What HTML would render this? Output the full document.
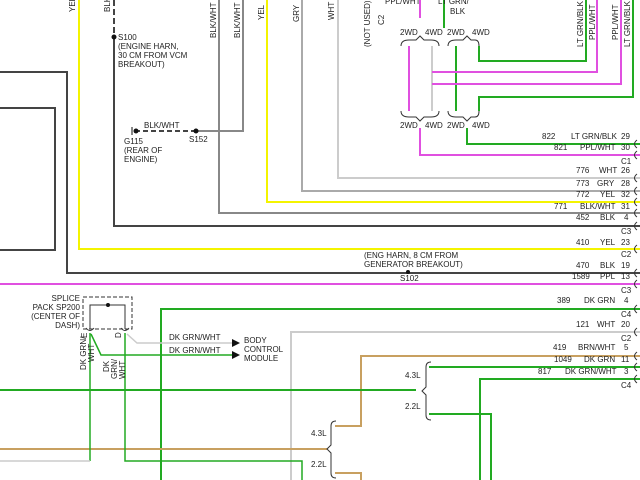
<!DOCTYPE html>
<html><head><meta charset="utf-8"><style>
html,body{margin:0;padding:0;background:#fff}
svg{display:block}
text{font-family:"Liberation Sans",sans-serif;font-size:8px;fill:#222}
</style></head><body>
<svg width="640" height="480" viewBox="0 0 640 480" xmlns="http://www.w3.org/2000/svg">
<g fill="none" stroke-width="2">
<polyline points="0,72 67,72 67,273 640,273" stroke="#444"/>
<polyline points="0,108 55,108 55,250 0,250" stroke="#444"/>
<polyline points="79,0 79,249 640,249" stroke="#f4f400"/>
<polyline points="267,0 267,202 640,202" stroke="#f4f400"/>
<line x1="114" y1="0" x2="114" y2="36" stroke="#444" stroke-dasharray="6,3"/>
<polyline points="114,37 114,226 640,226" stroke="#444"/>
<polyline points="219,0 219,213 640,213" stroke="#888"/>
<polyline points="243,0 243,131 196,131" stroke="#888"/>
<line x1="196" y1="131" x2="136" y2="131" stroke="#444" stroke-dasharray="5,3"/>
<polyline points="302,0 302,191 640,191" stroke="#aaa"/>
<polyline points="338,0 338,178 640,178" stroke="#ccc"/>
<line x1="420" y1="0" x2="420" y2="18" stroke="#e050e0"/>
<line x1="444" y1="0" x2="444" y2="28" stroke="#22aa22"/>
<line x1="409" y1="46" x2="409" y2="111" stroke="#e050e0"/>
<line x1="432" y1="46" x2="432" y2="111" stroke="#ccc"/>
<line x1="456" y1="46" x2="456" y2="111" stroke="#22aa22"/>
<polyline points="479,46 479,61 586,61 586,0" stroke="#22aa22"/>
<polyline points="432,72 597,72 597,0" stroke="#e050e0"/>
<polyline points="432,84 621,84 621,0" stroke="#e050e0"/>
<polyline points="479,111 479,97 633,97 633,0" stroke="#22aa22"/>
<polyline points="420,128 420,155 640,155" stroke="#e050e0"/>
<polyline points="467,128 467,144 640,144" stroke="#22aa22"/>
<line x1="0" y1="284" x2="640" y2="284" stroke="#e050e0"/>
<polyline points="161,480 161,309 640,309" stroke="#22aa22"/>
<polyline points="291,480 291,332 640,332" stroke="#ccc"/>
<polyline points="335,426 361,426 361,356 640,356" stroke="#c8a060"/>
<polyline points="335,473 361,473 361,480" stroke="#c8a060"/>
<line x1="0" y1="449" x2="327" y2="449" stroke="#c8a060"/>
<line x1="0" y1="390" x2="416" y2="390" stroke="#22aa22"/>
<line x1="429" y1="367" x2="640" y2="367" stroke="#22aa22"/>
<polyline points="429,414 491,414 491,480" stroke="#22aa22"/>
<polyline points="480,480 480,379 640,379" stroke="#22aa22"/>
<rect x="83" y="297" width="49" height="32" stroke="#333" stroke-width="1" stroke-dasharray="4,2"/>
<polyline points="90,329 90,305 125,305 125,329" stroke="#333" stroke-width="1"/>
<line x1="90" y1="333" x2="90" y2="461" stroke="#22aa22" stroke-width="1.5"/>
<line x1="0" y1="461" x2="90" y2="461" stroke="#ccc" stroke-width="1.5"/>
<polyline points="125,333 125,461 302,461 302,480" stroke="#22aa22" stroke-width="1.5"/>
<polyline points="91,334 101,355 232,355" stroke="#22aa22" stroke-width="1.5"/>
<polyline points="127,334 137,343 232,343" stroke="#ccc" stroke-width="1.5"/>
<g stroke="#333" stroke-width="1">
<path d="M401,46 q0,-6 8,-6 h7 l4,-4 l4,4 h7 q8,0 8,6"/>
<path d="M448,46 q0,-6 8,-6 h7 l4,-4 l4,4 h4 q4,0 4,6"/>
<path d="M401,111 q0,6 8,6 h7 l4,4 l4,-4 h7 q8,0 8,-6"/>
<path d="M448,111 q0,6 8,6 h7 l4,4 l4,-4 h4 q4,0 4,-6"/>
<path d="M431,362 q-5,0 -5,5 v20 l-4,4 l4,4 v20 q0,5 5,5"/>
<path d="M336,421 q-5,0 -5,5 v19 l-4,4 l4,4 v20 q0,5 5,5"/>
</g>
</g>
<g fill="none" stroke="#333" stroke-width="1">
<path d="M637,140 q-5,4 0,8"/><path d="M637,151 q-5,4 0,8"/>
<path d="M637,174 q-5,4 0,8"/><path d="M637,187 q-5,4 0,8"/><path d="M637,198 q-5,4 0,8"/><path d="M637,209 q-5,4 0,8"/><path d="M637,222 q-5,4 0,8"/>
<path d="M637,245 q-5,4 0,8"/><path d="M637,269 q-5,4 0,8"/><path d="M637,280 q-5,4 0,8"/>
<path d="M637,305 q-5,4 0,8"/><path d="M637,328 q-5,4 0,8"/><path d="M637,352 q-5,4 0,8"/><path d="M637,363 q-5,4 0,8"/><path d="M637,375 q-5,4 0,8"/>
<path d="M86,328 q4,5 8,0"/><path d="M121,328 q4,5 8,0"/>
</g>
<g fill="#111">
<circle cx="114" cy="37" r="2.5"/><circle cx="196" cy="131" r="2.5"/><circle cx="136" cy="131" r="2.5"/>
<circle cx="408" cy="272" r="2"/><circle cx="108" cy="305" r="2"/>
<polygon points="232,339 240,343 232,347"/><polygon points="232,351 240,355 232,359"/>
</g>
<line x1="132" y1="127" x2="132" y2="135" stroke="#111"/>
<text x="118" y="40">S100</text>
<text x="118" y="49">(ENGINE HARN,</text>
<text x="118" y="58">30 CM FROM VCM</text>
<text x="118" y="67">BREAKOUT)</text>
<text x="144" y="128">BLK/WHT</text>
<text x="124" y="144">G115</text>
<text x="124" y="153">(REAR OF</text>
<text x="124" y="162">ENGINE)</text>
<text x="189" y="142">S152</text>
<g font-size="8">
<text transform="translate(75,12) rotate(-90)">YEL</text>
<text transform="translate(110,12) rotate(-90)">BLK</text>
<text transform="translate(216,38) rotate(-90)">BLK/WHT</text>
<text transform="translate(240,38) rotate(-90)">BLK/WHT</text>
<text transform="translate(264,20) rotate(-90)">YEL</text>
<text transform="translate(299,22) rotate(-90)">GRY</text>
<text transform="translate(334,20) rotate(-90)">WHT</text>
<text transform="translate(370,47) rotate(-90)">(NOT USED)</text>
<text transform="translate(384,25) rotate(-90)">C2</text>
<text transform="translate(583,47) rotate(-90)">LT GRN/BLK</text>
<text transform="translate(595,40) rotate(-90)">PPL/WHT</text>
<text transform="translate(618,40) rotate(-90)">PPL/WHT</text>
<text transform="translate(630,47) rotate(-90)">LT GRN/BLK</text>
<text transform="translate(86,370) rotate(-90)">DK GRN/</text>
<text transform="translate(94,362) rotate(-90)">WHT</text>
<text transform="translate(109,372) rotate(-90)">DK</text>
<text transform="translate(117,379) rotate(-90)">GRN/</text>
<text transform="translate(125,379) rotate(-90)">WHT</text>
<text transform="translate(87,338) rotate(-90)">E</text>
<text transform="translate(121,338) rotate(-90)">D</text>
</g>
<text x="385" y="4">PPL/WHT</text>
<text x="438" y="4">LT GRN/</text>
<text x="450" y="14">BLK</text>
<text x="400" y="35">2WD</text><text x="425" y="35">4WD</text><text x="447" y="35">2WD</text><text x="472" y="35">4WD</text>
<text x="400" y="128">2WD</text><text x="425" y="128">4WD</text><text x="447" y="128">2WD</text><text x="472" y="128">4WD</text>
<g>
<text x="542" y="139">822</text><text x="571" y="139">LT GRN/BLK</text><text x="621" y="139">29</text>
<text x="554" y="150">821</text><text x="580" y="150">PPL/WHT</text><text x="621" y="150">30</text>
<text x="621" y="164">C1</text>
<text x="576" y="173">776</text><text x="599" y="173">WHT</text><text x="621" y="173">26</text>
<text x="576" y="186">773</text><text x="597" y="186">GRY</text><text x="621" y="186">28</text>
<text x="576" y="197">772</text><text x="600" y="197">YEL</text><text x="621" y="197">32</text>
<text x="554" y="209">771</text><text x="580" y="209">BLK/WHT</text><text x="621" y="209">31</text>
<text x="576" y="220">452</text><text x="600" y="220">BLK</text><text x="624" y="220">4</text>
<text x="621" y="234">C3</text>
<text x="576" y="245">410</text><text x="600" y="245">YEL</text><text x="621" y="245">23</text>
<text x="621" y="257">C2</text>
<text x="576" y="268">470</text><text x="600" y="268">BLK</text><text x="621" y="268">19</text>
<text x="572" y="279">1589</text><text x="600" y="279">PPL</text><text x="621" y="279">13</text>
<text x="621" y="293">C3</text>
<text x="557" y="303">389</text><text x="584" y="303">DK GRN</text><text x="624" y="303">4</text>
<text x="621" y="317">C4</text>
<text x="576" y="327">121</text><text x="597" y="327">WHT</text><text x="621" y="327">20</text>
<text x="621" y="341">C2</text>
<text x="553" y="350">419</text><text x="578" y="350">BRN/WHT</text><text x="624" y="350">5</text>
<text x="554" y="362">1049</text><text x="584" y="362">DK GRN</text><text x="621" y="362">11</text>
<text x="538" y="374">817</text><text x="565" y="374">DK GRN/WHT</text><text x="624" y="374">3</text>
<text x="621" y="388">C4</text>
</g>
<text x="364" y="258">(ENG HARN, 8 CM FROM</text>
<text x="364" y="267">GENERATOR BREAKOUT)</text>
<text x="400" y="281">S102</text>
<text x="405" y="378">4.3L</text><text x="405" y="409">2.2L</text>
<text x="311" y="436">4.3L</text><text x="311" y="467">2.2L</text>
<text x="80" y="301" text-anchor="end">SPLICE</text>
<text x="80" y="310" text-anchor="end">PACK SP200</text>
<text x="80" y="319" text-anchor="end">(CENTER OF</text>
<text x="80" y="328" text-anchor="end">DASH)</text>
<text x="169" y="340">DK GRN/WHT</text>
<text x="169" y="353">DK GRN/WHT</text>
<text x="244" y="343">BODY</text>
<text x="244" y="352">CONTROL</text>
<text x="244" y="361">MODULE</text>
</svg>
</body></html>
